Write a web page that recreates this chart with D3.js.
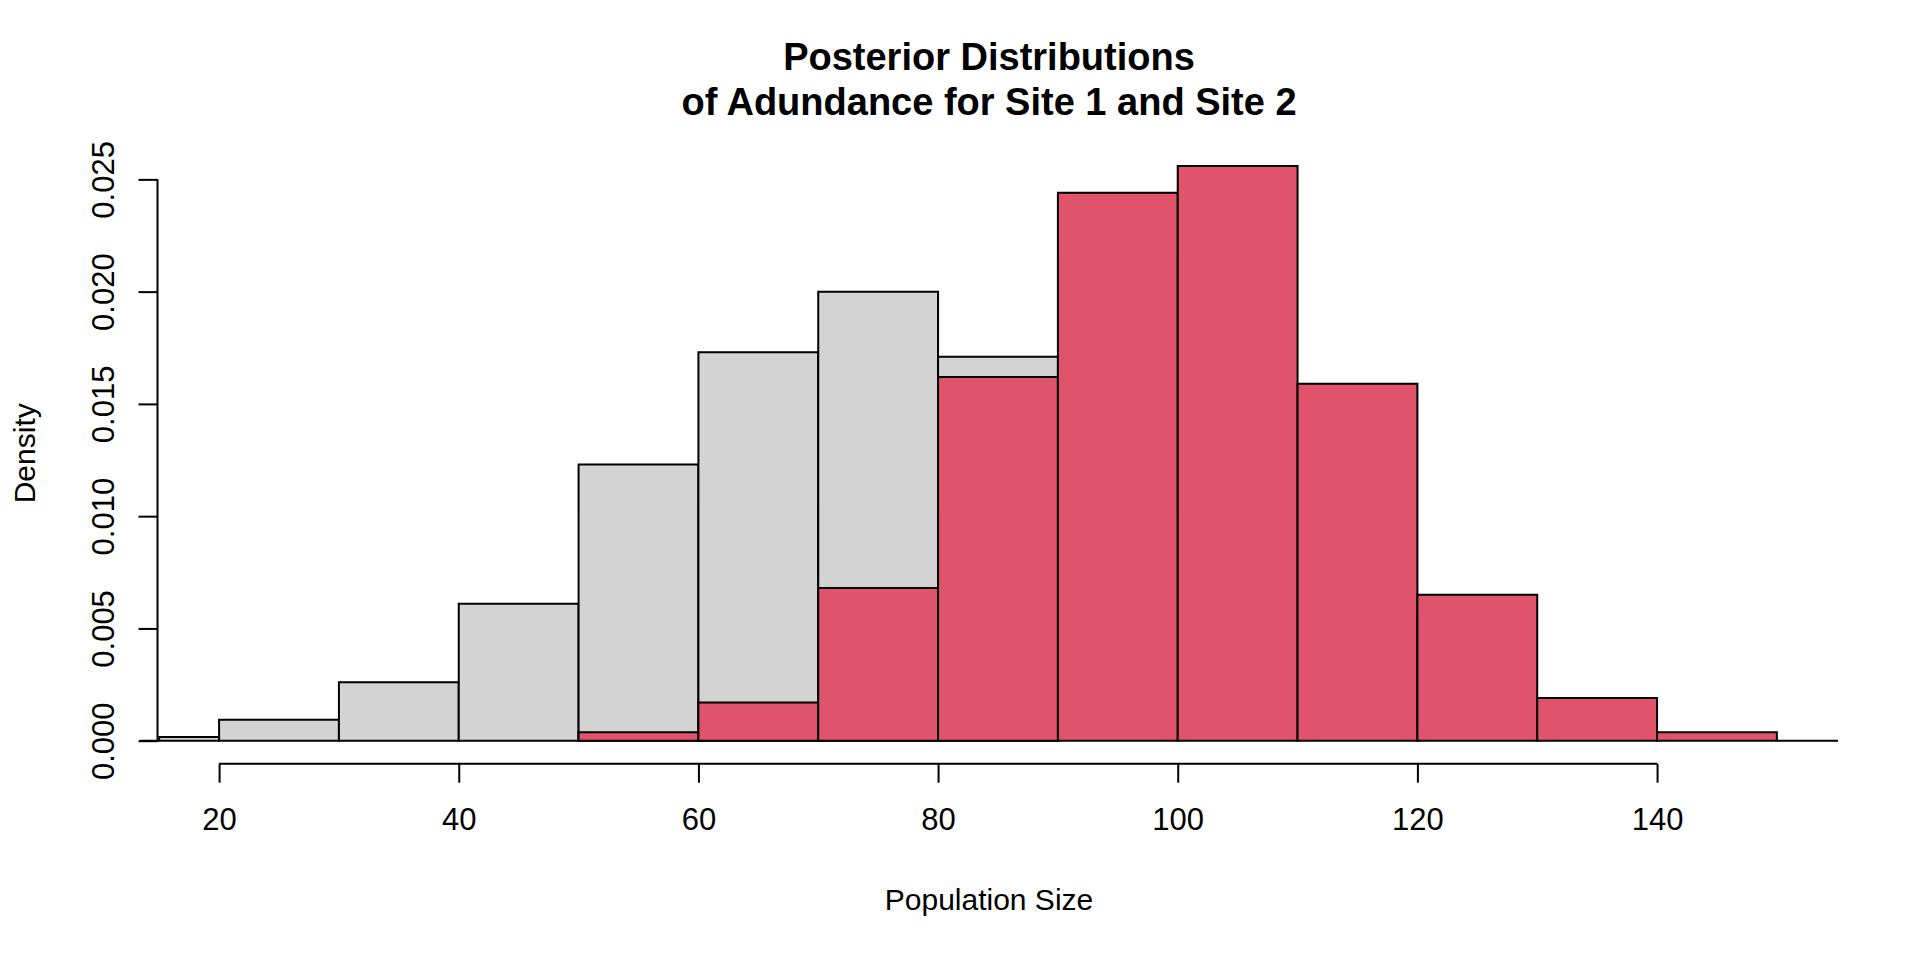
<!DOCTYPE html>
<html>
<head>
<meta charset="utf-8">
<script src="https://cdn.jsdelivr.net/npm/d3@7"></script>
<style>
  body { margin: 0; background: #fff; }
  text { font-family: "Liberation Sans", Arial, sans-serif; }
</style>
</head>
<body>
<div id="chart"></div>
<script>
// histogram breaks and densities
var site1Breaks = [10, 15, 20, 30, 40, 50, 60, 70, 80, 90]
var site1Density = [0, 0.00016, 0.00093, 0.0026, 0.0061, 0.0123, 0.0173, 0.0200, 0.0171]
var site2Breaks = [50, 60, 70, 80, 90, 100, 110, 120, 130, 140, 150, 160]
var site2Density = [0.00038, 0.0017, 0.0068, 0.0162, 0.0244, 0.0256, 0.0159, 0.0065, 0.0019, 0.00038, 0]
var xTicks = [20, 40, 60, 80, 100, 120, 140]
var yTicks = [0, 0.005, 0.010, 0.015, 0.020, 0.025]

var width = 1920, height = 960

var svg = d3.select('#chart').append('svg')
  .attr('width', width).attr('height', height)

var x = d3.scaleLinear().domain([13.4, 155.1]).range([140, 1838])
var y = d3.scaleLinear().domain([0, 0.026624]).range([740.7, 142.9])

svg.append('clipPath').attr('id', 'plotclip')
  .append('rect')
  .attr('x', x.range()[0]).attr('y', y.range()[1])
  .attr('width', x.range()[1] - x.range()[0])
  .attr('height', 763.7 - y.range()[1])

var toBins = (breaks, dens) => dens.map((d, i) => ({x0: breaks[i], x1: breaks[i + 1], d: d}))

// path instead of rect so zero-height bins still draw their line
var binPath = b => `M${x(b.x0)},${y(0)}V${y(b.d)}H${x(b.x1)}V${y(0)}Z`

var plot = svg.append('g').attr('clip-path', 'url(#plotclip)')

plot.selectAll('path.s1').data(toBins(site1Breaks, site1Density))
  .enter().append('path').attr('class', 's1')
  .attr('d', binPath)
  .style('fill', '#D3D3D3').style('stroke', '#000').style('stroke-width', 2)

plot.selectAll('path.s2').data(toBins(site2Breaks, site2Density))
  .enter().append('path').attr('class', 's2')
  .attr('d', binPath)
  .style('fill', '#DF536B').style('stroke', '#000').style('stroke-width', 2)

// x axis (R style: line spans first to last tick)
var xAxis = svg.append('g').attr('transform', 'translate(0,763.7)')
  .call(d3.axisBottom(x).tickValues(xTicks).tickSize(19).tickSizeOuter(0).tickPadding(0))
xAxis.select('.domain').remove()
xAxis.append('line')
  .attr('x1', x(xTicks[0])).attr('x2', x(xTicks[xTicks.length - 1]))
  .attr('stroke', '#000').attr('stroke-width', 2)
xAxis.selectAll('.tick line').attr('stroke', '#000').attr('stroke-width', 2)
xAxis.selectAll('.tick text')
  .attr('y', 66).attr('dy', 0)
  .style('font-size', '31px').style('fill', '#000')
  .style('font-family', '"Liberation Sans", Arial, sans-serif')

// y axis
var yAxis = svg.append('g').attr('transform', 'translate(157.5,0)')
  .call(d3.axisLeft(y).tickValues(yTicks).tickSize(19).tickSizeOuter(0).tickFormat(d3.format('.3f')))
yAxis.select('.domain').remove()
yAxis.append('line')
  .attr('y1', y(yTicks[0])).attr('y2', y(yTicks[yTicks.length - 1]))
  .attr('stroke', '#000').attr('stroke-width', 2)
yAxis.selectAll('.tick line').attr('stroke', '#000').attr('stroke-width', 2)
yAxis.selectAll('.tick text')
  .attr('x', 0).attr('dy', 0)
  .attr('transform', 'translate(-54,0) rotate(-90)')
  .attr('text-anchor', 'middle').attr('dominant-baseline', 'central')
  .style('font-size', '31px').style('fill', '#000')
  .style('font-family', '"Liberation Sans", Arial, sans-serif')

// titles
var cx = (x.range()[0] + x.range()[1]) / 2
svg.append('text').attr('x', cx).attr('y', 70)
  .attr('text-anchor', 'middle').style('font-size', '38px').style('font-weight', 'bold')
  .text('Posterior Distributions')
svg.append('text').attr('x', cx).attr('y', 115)
  .attr('text-anchor', 'middle').style('font-size', '38px').style('font-weight', 'bold')
  .text('of Adundance for Site 1 and Site 2')

svg.append('text').attr('x', cx).attr('y', 910)
  .attr('text-anchor', 'middle').style('font-size', '30px')
  .text('Population Size')

svg.append('text')
  .attr('transform', `translate(24,${(y.range()[1] + 763.7) / 2}) rotate(-90)`)
  .attr('text-anchor', 'middle').attr('dominant-baseline', 'central')
  .style('font-size', '30px')
  .text('Density')
</script>
</body>
</html>
